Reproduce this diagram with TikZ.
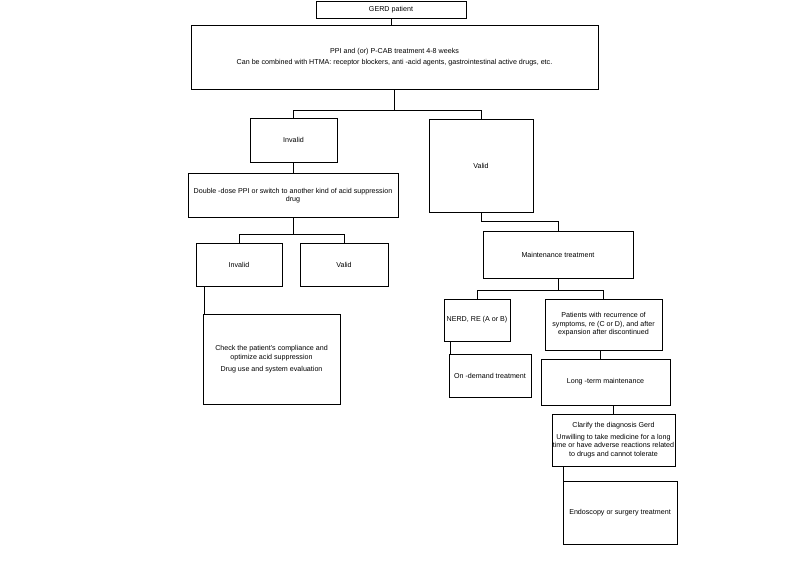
\documentclass[tikz,border=0pt]{standalone}
\usepackage{fontspec}
\setmainfont{Liberation Sans}
\usetikzlibrary{positioning}

\begin{document}
\begin{tikzpicture}[x=0.75pt,y=0.75pt,yscale=-1,xscale=1,
  box/.style={draw, line width=0.7pt, align=center, inner sep=0pt, font=\fontsize{5.35}{6.4}\selectfont},
  link/.style={draw, line width=0.7pt}]
\useasboundingbox (0,0) rectangle (800,564);

%Shape: Rectangle [gerd]
\node [box, minimum width=112.5pt, minimum height=12.75pt] (gerd) at (391,9.5) {GERD patient};
%Shape: Rectangle [ppi]
\node [box, minimum width=305.25pt, minimum height=48pt] (ppi) at (394.5,57) {PPI and (or) P-CAB treatment 4-8 weeks\\[1.6pt]Can be combined with HTMA: receptor blockers, anti -acid agents, gastrointestinal active drugs, etc.};
%Shape: Rectangle [inv1]
\node [box, minimum width=65.25pt, minimum height=33pt] (inv1) at (293.5,140) {Invalid};
%Shape: Rectangle [val1]
\node [box, minimum width=78pt, minimum height=69.75pt] (val1) at (481,165.5) {Valid};
%Shape: Rectangle [dbl]
\node [box, minimum width=157.5pt, minimum height=33pt] (dbl) at (293,195.5) {Double -dose PPI or switch to another kind of acid suppression\\drug};
%Shape: Rectangle [mnt]
\node [box, minimum width=112.5pt, minimum height=35.25pt] (mnt) at (558,254.5) {Maintenance treatment};
%Shape: Rectangle [inv2]
\node [box, minimum width=64.5pt, minimum height=32.25pt] (inv2) at (239,264.5) {Invalid};
%Shape: Rectangle [val2]
\node [box, minimum width=66pt, minimum height=32.25pt] (val2) at (344,264.5) {Valid};
%Shape: Rectangle [chk]
\node [box, minimum width=102.75pt, minimum height=67.5pt] (chk) at (271.5,359) {Check the patient's compliance and\\optimize acid suppression\\[2.5pt]Drug use and system evaluation};
%Shape: Rectangle [nerd]
\node [box, minimum width=49.5pt, minimum height=31.5pt] (nerd) at (477,320) {NERD, RE (A or B)};
%Shape: Rectangle [pat]
\node [box, minimum width=87.75pt, minimum height=38.25pt] (pat) at (603.5,324.5) {Patients with recurrence of\\symptoms, re (C or D), and after\\expansion after discontinued};
%Shape: Rectangle [ond]
\node [box, minimum width=61.5pt, minimum height=32.25pt] (ond) at (490,375.5) {On -demand treatment};
%Shape: Rectangle [lng]
\node [box, minimum width=96.75pt, minimum height=34.5pt] (lng) at (605.5,382) {Long -term maintenance};
%Shape: Rectangle [clr]
\node [box, minimum width=92.25pt, minimum height=39pt] (clr) at (613.5,440) {Clarify the diagnosis Gerd\\[2.5pt]Unwilling to take medicine for a long\\time or have adverse reactions related\\to drugs and cannot tolerate};
%Shape: Rectangle [endo]
\node [box, minimum width=85.5pt, minimum height=47.25pt] (endo) at (620,512.5) {Endoscopy or surgery treatment};

%Straight Lines
\draw [link] (gerd.south) -- (gerd.south |- ppi.north);
\draw [link] (ppi.south) -- ++(0,21) coordinate (j1);
\draw [link] (inv1.north) |- (j1) -| (val1.north);
\draw [link] (inv1.south) -- (inv1.south |- dbl.north);
\draw [link] (val1.south) -- ++(0,9) coordinate (j4);
\draw [link] (j4) -| (mnt.north);
\draw [link] (dbl.south) -- ++(0,16) coordinate (j2);
\draw [link] (inv2.north) |- (j2) -| (val2.north);
\draw [link] ([xshift=6.75pt]inv2.south west) -- ([xshift=6.75pt]inv2.south west |- chk.north);
\draw [link] (mnt.south) -- ++(0,12) coordinate (j3);
\draw [link] (nerd.north) |- (j3) -| (pat.north);
\draw [link] ([xshift=5.25pt]nerd.south west) -- ([xshift=5.25pt]nerd.south west |- ond.north);
\draw [link] ([xshift=-2pt]pat.south) -- ([xshift=-2pt]pat.south |- lng.north);
\draw [link] (clr.north |- lng.south) -- (clr.north);
\draw [link] ([xshift=9pt]clr.south west) -- ([xshift=9pt]clr.south west |- endo.north);

\end{tikzpicture}
\end{document}
